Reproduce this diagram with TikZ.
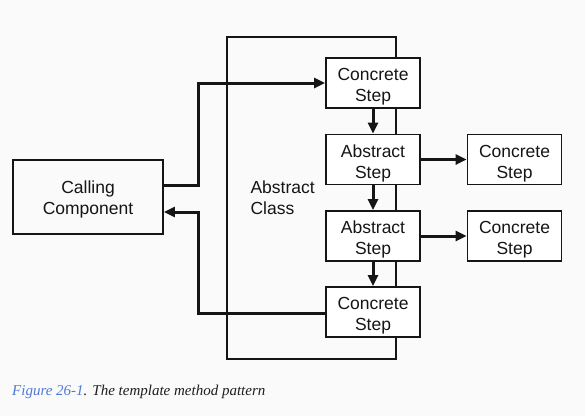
\documentclass[tikz,border=0pt]{standalone}
\usepackage{fontspec}
\setmainfont{Liberation Sans}
\newfontfamily\capfont{Liberation Serif}
\usetikzlibrary{arrows.meta}
\definecolor{figblue}{HTML}{4F7AD3}
\definecolor{captxt}{HTML}{1E1E1E}
\definecolor{ink}{HTML}{151515}
\newcommand\tp{\rule{0pt}{20.5pt}}
\tikzset{
  stepbox/.style={draw=ink, text=ink, line width=1.8pt, minimum width=94pt, minimum height=50pt, align=center, inner sep=0pt, font=\fontsize{17.5}{21}\selectfont},
  conn/.style={draw=ink, line width=3pt, -{Triangle[length=11pt,width=10pt]}}
}
\begin{document}
\begin{tikzpicture}[x=1pt,y=-1pt]
\fill[white!98!black] (0,0) rectangle (585,416);
\useasboundingbox (0,0) rectangle (585,416);
% abstract class frame
\draw[ink, line width=1.5pt] (227,37) rectangle (396,359);
\node[anchor=west, align=left, text=ink, font=\fontsize{17.5}{21}\selectfont] (ac) at (247,198) {Abstract\\Class};
% steps
\node[stepbox, fill=white] (c1) at (373,83) {\tp Concrete\\Step};
\node[stepbox, fill=white] (a1) at (373,159.5) {\tp Abstract\\Step};
\node[stepbox, fill=white] (a2) at (373,236) {\tp Abstract\\Step};
\node[stepbox, fill=white] (c4) at (373,312) {\tp Concrete\\Step};
\node[stepbox, fill=white] (r1) at (514.5,159.5) {\tp Concrete\\Step};
\node[stepbox, fill=white] (r2) at (514.5,236) {\tp Concrete\\Step};
\node[stepbox, minimum width=150pt, minimum height=74pt] (cc) at (88,197) {\rule{0pt}{18pt}Calling\\Component};
% connectors
\coordinate (t1) at (198,185);
\coordinate (t2) at (198,83);
\draw[conn] (cc.east |- t1) -- (t1) -- (t2) -- (c1.west);
\coordinate (b1) at (198,313);
\coordinate (b2) at (198,212);
\draw[conn] (c4.west |- b1) -- (b1) -- (b2) -- (cc.east |- b2);
\draw[conn] (c1) -- (a1);
\draw[conn] (a1) -- (a2);
\draw[conn] (a2) -- (c4);
\draw[conn] (a1) -- (r1);
\draw[conn] (a2) -- (r2);
% caption
\node[anchor=base west, inner sep=0pt, font=\capfont\itshape\fontsize{15}{18}\selectfont] (cap) at (12,395) {\textcolor{figblue}{Figure 26-1}\textcolor{captxt}{. The template method pattern}};
\end{tikzpicture}
\end{document}
